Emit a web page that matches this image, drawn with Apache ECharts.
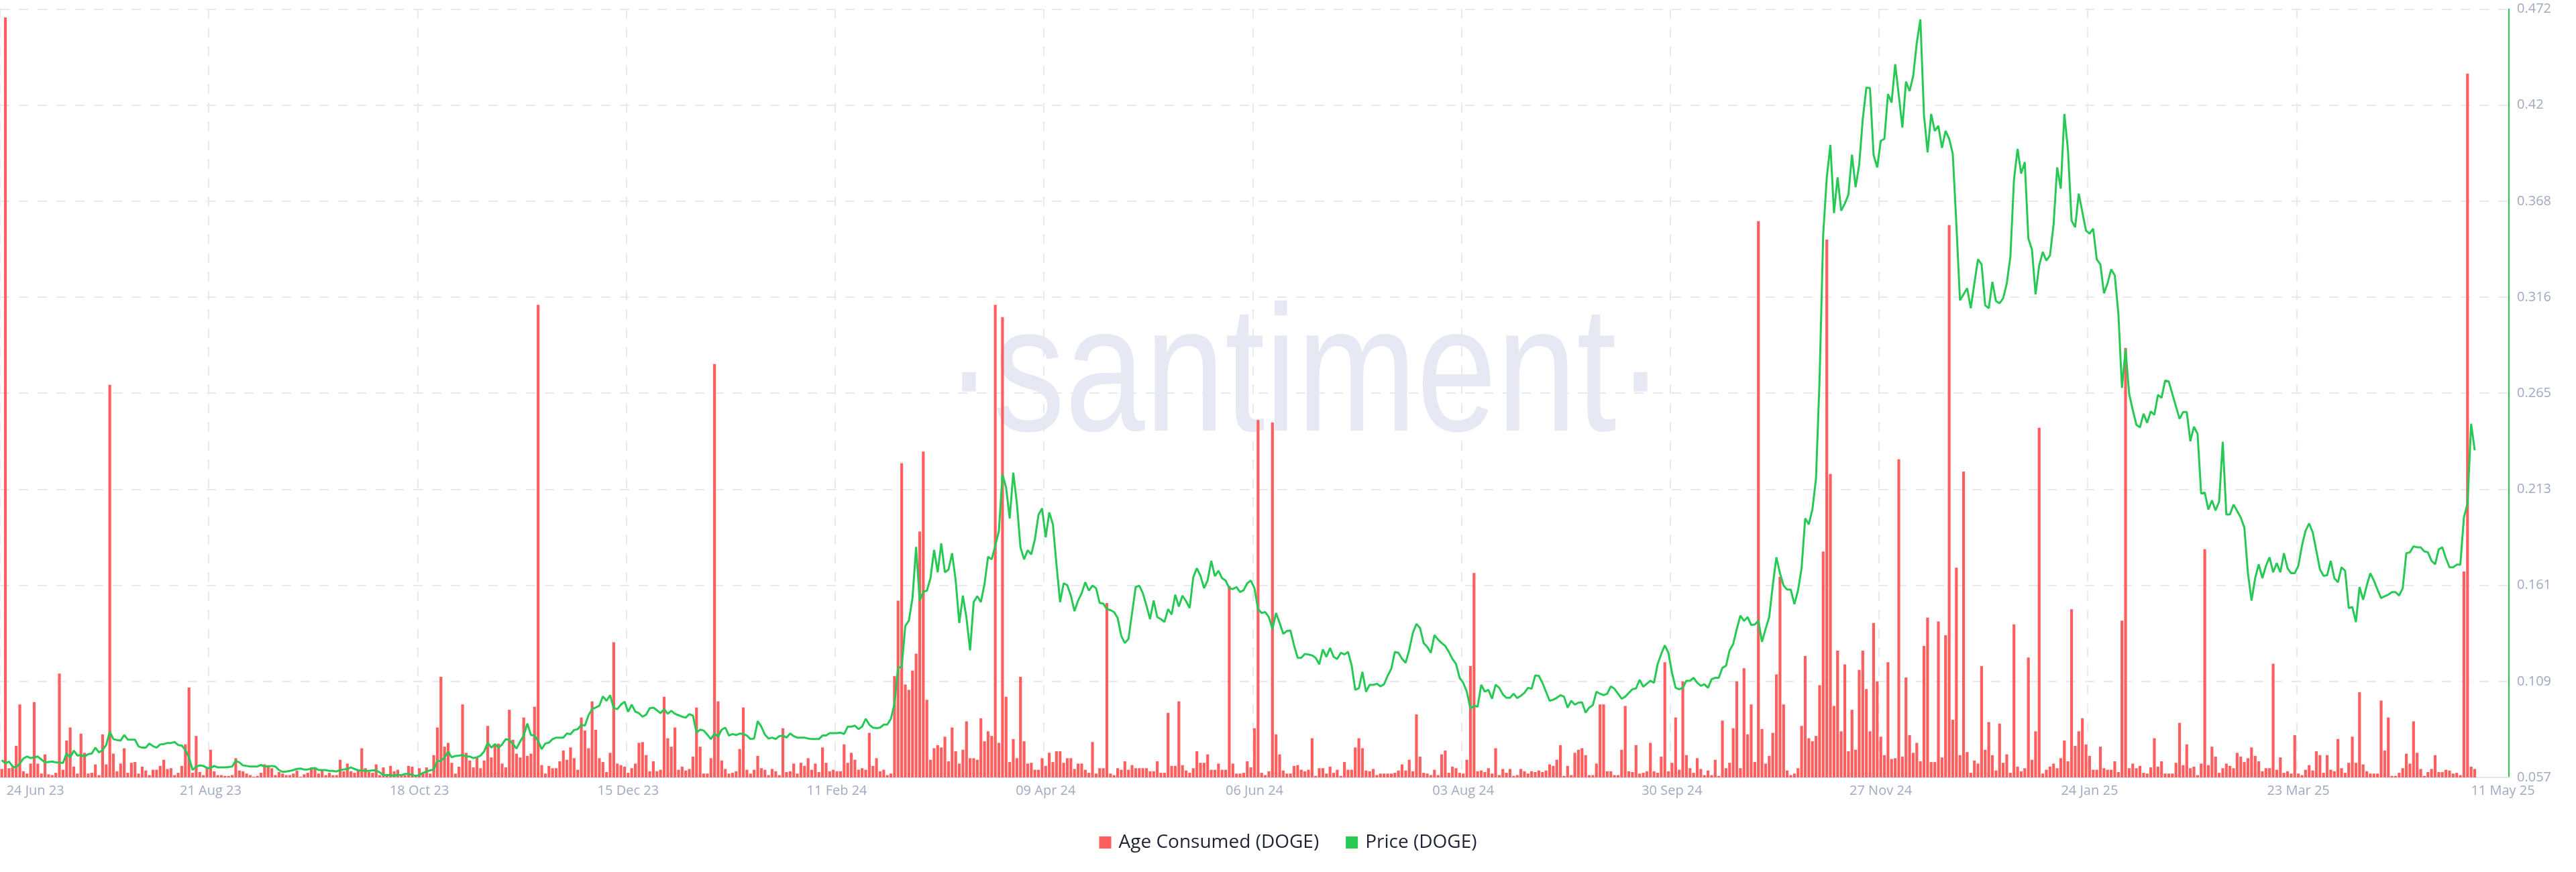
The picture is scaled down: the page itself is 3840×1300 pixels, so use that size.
<!DOCTYPE html>
<html>
<head>
<meta charset="utf-8">
<style>
html,body{margin:0;padding:0;background:#fff;}
#chart{width:3840px;height:1300px;}
</style>
<script src="https://cdn.jsdelivr.net/npm/echarts@6/dist/echarts.min.js"></script>
</head>
<body>
<div id="chart"></div>
<script>
// ---- DATA ----
const startDate = '2023-06-24';
const dayCount = 697; // axis length (days), data covers first 688 days
const tickLabels = ['24 Jun 23','21 Aug 23','18 Oct 23','15 Dec 23','11 Feb 24','09 Apr 24','06 Jun 24','03 Aug 24','30 Sep 24','27 Nov 24','24 Jan 25','23 Mar 25','11 May 25'];
const priceTicks = [0.057,0.109,0.161,0.213,0.265,0.316,0.368,0.42,0.472];

// Age Consumed (DOGE) - relative units (plot height = 100)
const ageConsumed = [
1.1,98.9,1.2,1.3,4.1,9.5,0.8,0.5,1.8,9.8,
1.8,0.5,3.0,0.4,0.3,0.6,13.5,1.0,4.8,6.5,
1.4,0.5,5.7,3.2,0.5,0.6,1.7,0.3,5.6,1.7,
51.1,3.1,0.8,1.8,3.8,0.6,1.9,2.0,0.5,1.4,
0.9,0.3,1.0,1.0,1.5,2.3,1.1,1.2,0.3,0.6,
1.5,4.3,11.7,0.6,5.4,0.7,0.3,1.3,3.6,0.8,
0.3,0.3,0.2,0.2,0.3,2.5,0.9,0.8,0.5,0.3,
0.1,0.2,0.6,1.7,1.6,1.2,0.3,0.7,0.5,0.3,
0.3,0.5,0.9,0.1,0.4,0.6,1.3,1.3,0.5,0.9,
0.3,0.6,0.3,0.3,2.3,0.8,1.8,0.8,0.6,1.0,
3.8,1.2,0.7,0.6,1.7,0.3,1.3,0.3,1.5,0.8,
1.0,0.3,0.3,1.5,1.4,0.1,
1.2,0.5,1.3,0.5,2.9,6.5,13.1,4.0,4.5,1.9,
0.5,1.4,9.5,3.2,2.2,1.3,2.7,1.2,2.2,6.7,
2.6,4.3,4.4,1.8,1.3,8.8,4.9,3.1,2.6,7.8,
2.8,3.1,9.2,61.5,1.6,0.5,1.5,1.2,1.2,2.1,
3.5,2.3,3.9,2.5,1.0,7.8,6.1,3.8,9.9,6.2,
2.5,2.0,0.7,3.2,17.6,1.8,1.6,1.4,0.6,1.2,
1.8,4.5,4.6,2.9,0.8,2.1,0.8,1.0,10.5,5.1,
4.0,6.5,1.0,1.4,0.9,1.1,2.7,9.1,4.0,0.5,
0.5,2.5,53.8,9.9,2.2,1.1,0.5,0.6,0.8,3.7,
9.1,1.0,0.5,1.0,2.8,1.2,1.0,0.3,1.1,0.8,
0.3,6.4,0.7,0.8,1.8,0.5,1.9,1.5,2.5,1.0,
1.8,0.7,3.9,1.9,0.8,1.0,0.8,
0.8,4.3,1.9,3.2,2.3,1.0,1.2,1.0,5.8,1.5,
2.5,0.8,1.0,0.3,0.5,13.2,23.0,40.9,12.1,11.4,
13.9,16.1,32.0,42.4,10.1,2.3,3.8,4.2,3.9,5.3,
2.1,6.5,3.4,1.8,3.6,7.3,2.5,2.5,2.3,7.7,
4.7,6.0,5.4,61.5,4.5,59.9,10.5,2.0,5.0,2.5,
13.1,4.7,1.8,1.9,1.0,1.0,2.5,1.5,3.2,2.0,
3.4,3.4,1.9,2.5,2.5,1.1,1.8,1.8,1.0,0.6,
4.6,0.5,1.2,1.2,22.7,0.5,0.3,1.2,1.0,2.1,
1.0,1.6,1.2,1.2,1.2,1.2,0.8,0.8,2.1,0.6,
0.6,8.4,1.5,1.5,9.9,1.6,0.9,0.6,1.2,3.4,
1.9,1.9,3.0,1.0,1.0,1.8,1.0,1.0,24.9,1.8,
0.5,0.5,0.6,2.1,1.3,6.4,
46.5,0.6,0.3,0.8,46.2,5.6,3.0,0.9,0.5,0.5,
1.5,1.6,1.0,0.8,1.0,5.1,0.2,1.2,1.2,0.5,
1.4,0.6,1.0,0.2,2.0,1.0,1.0,3.9,5.1,3.8,
0.9,0.8,1.1,0.3,0.5,0.5,0.5,0.5,0.6,0.9,
1.7,0.9,2.3,0.8,8.2,2.7,0.6,0.5,0.3,1.0,
0.3,3.0,3.5,0.6,1.4,1.2,0.6,0.5,2.3,14.5,
26.6,0.8,0.9,0.7,1.2,0.5,3.8,0.3,1.1,0.6,
1.1,0.2,0.3,1.1,0.8,0.5,0.8,0.7,0.9,0.7,
0.9,1.7,1.5,2.3,4.2,0.2,1.5,0.3,3.2,3.6,
3.8,2.9,0.3,0.3,1.8,9.5,9.5,0.8,0.8,0.3,
0.3,3.6,9.3,0.8,0.7,4.2,0.5,0.6,0.8,4.5,
0.8,0.6,2.7,15.0,0.8,1.9,7.8,
1.0,12.5,2.9,1.2,0.6,2.5,1.1,0.3,0.9,0.3,
2.3,0.2,7.4,1.2,1.9,6.4,12.5,1.2,14.2,5.6,
9.5,2.0,72.4,6.3,1.8,2.8,5.8,13.4,26.1,9.5,
0.9,0.3,0.5,1.2,6.7,15.8,5.1,4.7,5.4,12.0,
29.4,70.0,39.5,9.3,16.5,6.0,14.7,3.4,8.8,3.6,
14.0,16.5,11.5,6.0,20.1,12.5,5.3,2.9,15.0,2.4,
2.5,41.4,2.7,13.0,5.5,3.2,4.5,2.1,17.1,20.8,
2.0,2.0,20.3,2.6,18.5,71.9,7.5,27.3,2.9,39.8,
3.3,0.6,2.2,1.8,14.5,3.6,7.2,2.9,0.9,7.0,
1.9,3.0,0.6,19.9,1.4,0.8,1.2,15.6,2.3,6.0,
45.5,0.5,1.0,1.4,1.8,1.2,2.5,4.8,2.1,21.9,
4.1,6.0,7.7,4.3,2.8,1.0,
1.0,4.0,1.2,1.0,1.0,2.1,0.7,20.4,55.9,1.2,
1.8,1.2,1.5,0.6,0.5,1.3,5.1,1.4,2.1,0.5,
0.5,0.5,1.9,7.1,1.6,4.3,1.2,1.4,0.3,1.8,
29.7,1.6,4.0,2.7,0.6,1.2,1.8,1.5,1.2,3.2,
2.7,2.0,2.5,3.9,2.8,2.1,0.8,1.2,1.2,14.8,
1.0,2.6,0.6,0.8,0.5,5.5,0.5,0.3,1.0,1.6,
0.9,3.4,2.9,0.6,2.9,1.0,0.8,5.0,1.2,0.6,
1.9,5.3,1.9,11.1,1.7,0.8,0.5,0.5,0.5,10.0,
3.5,7.8,0.2,0.2,0.6,1.2,3.1,1.8,7.3,3.2,
1.1,0.2,0.7,1.1,2.9,0.7,0.7,1.0,0.9,0.5,
0.6,0.3,26.8,91.6,1.4,1.1
];

// Price (DOGE), USD
const price = [
0.0664,0.0645,0.0656,0.0629,0.0624,0.0645,0.0672,0.0683,0.0675,0.0678,
0.0683,0.0667,0.0651,0.0653,0.0656,0.0651,0.0651,0.0648,0.0699,0.0678,
0.0715,0.0688,0.0691,0.0683,0.0696,0.0699,0.0731,0.0705,0.0718,0.0745,
0.0817,0.0777,0.0772,0.0769,0.0799,0.0774,0.0774,0.0774,0.0737,0.0731,
0.0731,0.0753,0.0739,0.0731,0.0748,0.0750,0.0756,0.0756,0.0761,0.0745,
0.0742,0.0718,0.0678,0.0610,0.0629,0.0635,0.0632,0.0621,0.0621,0.0632,
0.0624,0.0624,0.0624,0.0626,0.0629,0.0659,0.0651,0.0635,0.0632,0.0629,
0.0629,0.0629,0.0637,0.0629,0.0629,0.0632,0.0629,0.0610,0.0600,0.0602,
0.0605,0.0610,0.0616,0.0618,0.0613,0.0613,0.0618,0.0621,0.0610,0.0610,
0.0610,0.0605,0.0605,0.0602,0.0610,0.0613,0.0616,0.0624,0.0616,0.0608,
0.0608,0.0605,0.0605,0.0608,0.0608,0.0597,0.0583,0.0583,0.0583,0.0578,
0.0586,0.0581,0.0589,0.0589,0.0583,0.0578,
0.0583,0.0594,0.0602,0.0608,0.0613,0.0659,0.0659,0.0678,0.0710,0.0678,
0.0686,0.0688,0.0691,0.0683,0.0683,0.0675,0.0678,0.0688,0.0710,0.0758,
0.0731,0.0750,0.0731,0.0748,0.0777,0.0772,0.0750,0.0726,0.0764,0.0796,
0.0861,0.0799,0.0796,0.0766,0.0723,0.0753,0.0758,0.0777,0.0785,0.0785,
0.0785,0.0807,0.0804,0.0826,0.0831,0.0855,0.0850,0.0906,0.0939,0.0947,
0.0957,0.1008,0.0984,0.1014,0.0944,0.0939,0.0963,0.0979,0.0925,0.0963,
0.0925,0.0917,0.0898,0.0909,0.0944,0.0947,0.0933,0.0917,0.0939,0.0914,
0.0930,0.0914,0.0906,0.0898,0.0893,0.0912,0.0904,0.0812,0.0828,0.0823,
0.0801,0.0777,0.0807,0.0791,0.0828,0.0839,0.0796,0.0804,0.0799,0.0807,
0.0804,0.0796,0.0777,0.0780,0.0874,0.0844,0.0801,0.0780,0.0785,0.0777,
0.0793,0.0796,0.0785,0.0807,0.0793,0.0785,0.0785,0.0785,0.0780,0.0777,
0.0777,0.0777,0.0796,0.0796,0.0809,0.0809,0.0809,
0.0812,0.0804,0.0844,0.0844,0.0850,0.0831,0.0844,0.0887,0.0855,0.0839,
0.0836,0.0839,0.0855,0.0855,0.0887,0.0968,0.1162,0.1167,0.1388,0.1417,
0.1538,0.1815,0.1525,0.1573,0.1579,0.1646,0.1799,0.1678,0.1834,0.1678,
0.1692,0.1781,0.1633,0.1404,0.1552,0.1431,0.1256,0.1517,0.1549,0.1517,
0.1614,0.1762,0.1748,0.1821,0.1902,0.2206,0.2136,0.1969,0.2216,0.2050,
0.1813,0.1748,0.1797,0.1775,0.1856,0.1988,0.2023,0.1867,0.2001,0.1937,
0.1721,0.1517,0.1619,0.1608,0.1552,0.1468,0.1525,0.1565,0.1624,0.1579,
0.1606,0.1592,0.1512,0.1509,0.1479,0.1474,0.1463,0.1431,0.1334,0.1296,
0.1318,0.1458,0.1598,0.1606,0.1565,0.1498,0.1425,0.1525,0.1436,0.1425,
0.1409,0.1479,0.1450,0.1557,0.1493,0.1552,0.1522,0.1485,0.1651,0.1700,
0.1659,0.1592,0.1635,0.1740,0.1657,0.1686,0.1646,0.1633,0.1592,0.1587,
0.1598,0.1571,0.1581,0.1619,0.1633,0.1592,
0.1479,0.1458,0.1463,0.1436,0.1372,0.1458,0.1404,0.1345,0.1361,0.1364,
0.1283,0.1216,0.1216,0.1237,0.1234,0.1229,0.1216,0.1181,0.1261,0.1221,
0.1269,0.1221,0.1210,0.1243,0.1234,0.1248,0.1175,0.1043,0.1051,0.1140,
0.1033,0.1070,0.1070,0.1076,0.1062,0.1073,0.1119,0.1156,0.1248,0.1243,
0.1210,0.1189,0.1259,0.1350,0.1399,0.1377,0.1296,0.1275,0.1243,0.1339,
0.1315,0.1296,0.1280,0.1248,0.1210,0.1183,0.1108,0.1081,0.1033,0.0941,
0.0957,0.0952,0.1070,0.1033,0.1043,0.0995,0.1070,0.1054,0.1019,0.1000,
0.1000,0.1022,0.0998,0.1011,0.1027,0.1054,0.1049,0.1121,0.1119,0.1081,
0.1033,0.0984,0.0990,0.1000,0.1014,0.1006,0.0947,0.0984,0.0963,0.0974,
0.0976,0.0920,0.0947,0.0960,0.1033,0.1022,0.1014,0.1022,0.1062,0.1049,
0.1022,0.0995,0.1006,0.1027,0.1046,0.1051,0.1097,0.1060,0.1076,0.1092,
0.1081,0.1181,0.1237,0.1283,0.1243,0.1135,0.1054,
0.1046,0.1054,0.1092,0.1092,0.1108,0.1081,0.1065,0.1073,0.1054,0.1100,
0.1108,0.1108,0.1162,0.1173,0.1256,0.1291,0.1372,0.1444,0.1415,0.1436,
0.1393,0.1396,0.1417,0.1302,0.1372,0.1436,0.1608,0.1759,0.1673,0.1606,
0.1584,0.1584,0.1506,0.1579,0.1700,0.1969,0.1937,0.2017,0.2184,0.2722,
0.3502,0.3811,0.3986,0.3618,0.3811,0.3631,0.3669,0.3717,0.3933,0.3758,
0.3879,0.4126,0.4296,0.4293,0.3933,0.3865,0.4008,0.4019,0.4261,0.4215,
0.4422,0.4255,0.4080,0.4328,0.4277,0.4358,0.4538,0.4664,0.4148,0.3946,
0.4153,0.4062,0.4089,0.3970,0.4062,0.4019,0.3938,0.3556,0.3147,0.3179,
0.3212,0.3104,0.3238,0.3368,0.3341,0.3120,0.3104,0.3247,0.3142,0.3131,
0.3158,0.3238,0.3381,0.3798,0.3965,0.3831,0.3893,0.3481,0.3421,0.3179,
0.3335,0.3408,0.3362,0.3389,0.3556,0.3865,0.3750,0.4153,0.3959,0.3577,
0.3542,0.3723,0.3623,0.3524,0.3507,0.3534,
0.3368,0.3341,0.3185,0.3238,0.3314,0.3282,0.3077,0.2674,0.2883,0.2641,
0.2555,0.2475,0.2461,0.2534,0.2485,0.2547,0.2528,0.2636,0.2620,0.2714,
0.2709,0.2641,0.2574,0.2507,0.2544,0.2544,0.2386,0.2464,0.2426,0.2103,
0.2109,0.2017,0.2066,0.2012,0.2060,0.2383,0.1990,0.1990,0.2044,0.2009,
0.1974,0.1920,0.1673,0.1525,0.1646,0.1721,0.1646,0.1713,0.1759,0.1678,
0.1727,0.1678,0.1781,0.1700,0.1673,0.1673,0.1713,0.1821,0.1902,0.1942,
0.1893,0.1794,0.1694,0.1659,0.1662,0.1740,0.1646,0.1624,0.1705,0.1686,
0.1485,0.1490,0.1409,0.1598,0.1530,0.1606,0.1673,0.1633,0.1584,0.1538,
0.1549,0.1557,0.1571,0.1571,0.1552,0.1592,0.1781,0.1786,0.1818,0.1813,
0.1813,0.1791,0.1786,0.1740,0.1721,0.1802,0.1813,0.1754,0.1705,0.1705,
0.1719,0.1719,0.1974,0.2050,0.2480,0.2337
];

// ---- CATEGORIES (daily dates) ----
const MONTHS = ['Jan','Feb','Mar','Apr','May','Jun','Jul','Aug','Sep','Oct','Nov','Dec'];
const dates = [];
(function(){
  const t0 = Date.parse(startDate + 'T00:00:00Z');
  for (let i = 0; i < dayCount; i++) {
    const d = new Date(t0 + i * 86400000);
    const dd = String(d.getUTCDate()).padStart(2, '0');
    const yy = String(d.getUTCFullYear()).slice(2);
    dates.push(dd + ' ' + MONTHS[d.getUTCMonth()] + ' ' + yy);
  }
})();

const FONT = '"Open Sans", "Liberation Sans", sans-serif';
const AXIS_TXT = '#a0a9c2';
const GRID_CLR = '#e6e8f2';
const RED = '#ff5e5e';
const GREEN = '#26c953';
const lastPrice = price[price.length - 1];

const chart = echarts.init(document.getElementById('chart'), null, {renderer: 'canvas'});
chart.setOption({
  animation: false,
  backgroundColor: '#ffffff',
  textStyle: {fontFamily: FONT},
  grid: {left: 0, right: 100, top: 13.5, bottom: 141, containLabel: false, outerBoundsMode: 'none'},
  graphic: [{
    type: 'text',
    x: 1945, y: 568,
    scaleX: 0.8,
    z: -10,
    silent: true,
    style: {
      text: '\u00B7santiment\u00B7',
      font: '268px "Liberation Sans", Arial, sans-serif',
      fill: '#e6e9f3',
      align: 'center',
      verticalAlign: 'middle'
    }
  }],
  legend: {
    left: 'center',
    top: 1237,
    icon: 'rect',
    itemWidth: 18,
    itemHeight: 18,
    itemGap: 40,
    textStyle: {fontFamily: FONT, fontSize: 28, color: '#1e2233', padding: [0, 0, 0, 6]},
    data: ['Age Consumed (DOGE)', 'Price (DOGE)']
  },
  xAxis: {
    type: 'category',
    data: dates,
    boundaryGap: true,
    axisLine: {show: true, lineStyle: {color: '#e3e6ef', width: 2}},
    axisTick: {show: false},
    axisLabel: {
      interval: function (idx, val) { return tickLabels.indexOf(val) >= 0; },
      formatter: function (val, idx) {
        if (idx === 0) return '{first|' + val + '}';
        if (val === tickLabels[tickLabels.length - 1]) return '{last|' + val + '}';
        return val;
      },
      color: AXIS_TXT,
      fontFamily: FONT,
      fontSize: 20,
      margin: 10,
      rich: {
        first: {padding: [0, 0, 0, 100], color: AXIS_TXT, fontFamily: FONT, fontSize: 20},
        last: {padding: [0, 0, 0, 84], color: AXIS_TXT, fontFamily: FONT, fontSize: 20}
      }
    },
    splitLine: {
      show: true,
      interval: function (idx) { return idx % 58 === 0 && idx < 680; },
      lineStyle: {type: [14, 14], color: GRID_CLR, width: 2}
    }
  },
  yAxis: [{
    type: 'value',
    position: 'right',
    min: 0.057,
    max: 0.472,
    interval: 0.051875,
    axisLine: {show: true, lineStyle: {color: GREEN, width: 2}},
    axisTick: {show: false},
    axisLabel: {
      color: AXIS_TXT, fontFamily: FONT, fontSize: 20, margin: 12,
      formatter: function (v) { return String(parseFloat((v + 1e-9).toFixed(3))); }
    },
    splitLine: {show: true, lineStyle: {type: [14, 14], color: GRID_CLR, width: 2}}
  }, {
    type: 'value',
    position: 'left',
    min: 0,
    max: 100,
    show: false,
    splitLine: {show: false}
  }],
  series: [{
    name: 'Age Consumed (DOGE)',
    type: 'bar',
    yAxisIndex: 1,
    data: ageConsumed,
    barCategoryGap: '22%',
    itemStyle: {color: RED},
    z: 2
  }, {
    name: 'Price (DOGE)',
    type: 'line',
    yAxisIndex: 0,
    data: price,
    showSymbol: false,
    symbol: 'none',
    lineStyle: {color: GREEN, width: 3},
    itemStyle: {color: GREEN},
    z: 3,
    markLine: {
      silent: true,
      symbol: 'none',
      lineStyle: {opacity: 0},
      data: [{yAxis: lastPrice}],
      label: {
        show: true,
        position: 'end',
        distance: 6,
        formatter: lastPrice.toFixed(3),
        backgroundColor: GREEN,
        color: '#ffffff',
        fontFamily: FONT,
        fontSize: 20,
        padding: [3, 6, 2, 6]
      }
    }
  }]
});
</script>
</body>
</html>
